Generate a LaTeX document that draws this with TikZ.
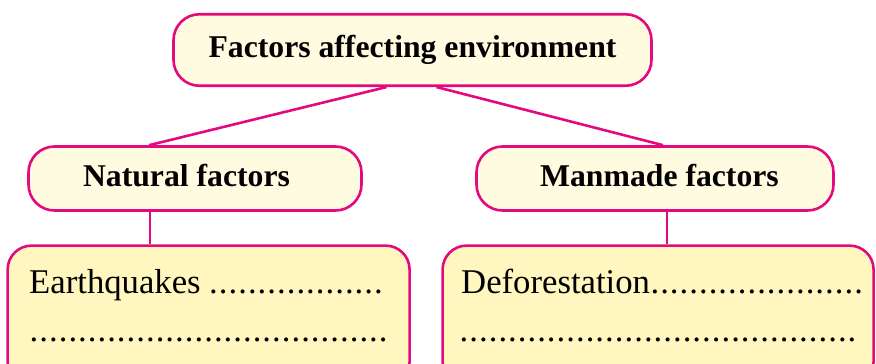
\documentclass[tikz,border=0pt]{standalone}
\usepackage{fontspec}
\setmainfont{Liberation Serif}
\usepackage{tikz}
\usetikzlibrary{positioning,calc}
\usepackage{xcolor}
\definecolor{colpink}{HTML}{E5097F}
\definecolor{colcream}{HTML}{FFFBE0}
\definecolor{colbutter}{HTML}{FFF7BF}
\newcommand{\dotrow}[1]{\hbox to #1{\leaders\hbox to 9.7pt{\hss.\hss}\hfill}}

\begin{document}
\begin{tikzpicture}[
  x=1pt, y=-1pt,
  head/.style={draw=colpink,line width=2.6pt,fill=colcream,rounded corners=26pt,
    font=\fontsize{31.7}{36}\selectfont\bfseries,text height=22pt,text depth=7pt},
  blank/.style={draw=colpink,line width=2.6pt,fill=colbutter,rounded corners=24pt,
    anchor=north west},
  fill in/.style={anchor=base west,inner sep=0pt,font=\fontsize{34.7}{40}\selectfont},
  link/.style={draw=colpink,line width=2.6pt},
]
  \clip (0,0) rectangle (876,364);
  % ---------------- top ----------------
  \node[head,minimum width=478pt,minimum height=71.5pt] (env) at (412.5,50)
    {Factors affecting environment};
  % ---------------- second row ----------------
  \node[head,minimum width=333pt,minimum height=64pt] (nat) at (195,178.5)
    {\hspace*{-17pt}Natural factors};
  \node[head,minimum width=357pt,minimum height=64pt] (man) at (655,178.5)
    {\hspace*{9pt}Manmade factors};
  \draw[link] ([xshift=-26pt]env.south) -- ([xshift=-46pt]nat.north);
  \draw[link] ([xshift=24pt]env.south) -- ([xshift=8pt]man.north);
  % ---------------- answer boxes ----------------
  \node[blank,minimum width=402pt,minimum height=140pt] (natbox) at (6.3,244.3) {};
  \node[blank,minimum width=431pt,minimum height=140pt] (manbox) at (441.3,244.3) {};
  \draw[link] ([xshift=-45pt]nat.south) -- ([xshift=-45pt]nat.south |- natbox.north);
  \draw[link] ([xshift=12pt]man.south) -- ([xshift=12pt]man.south |- manbox.north);
  % the dotted lines are left for the pupil to fill
  \node[fill in] (eq1) at (29,293) {Earthquakes\hspace{8pt}\dotrow{180pt}};
  \node[fill in] (eq2) at (29,341) {\dotrow{359pt}};
  \node[fill in] (df1) at (461,293) {Deforestation\dotrow{223pt}};
  \node[fill in] (df2) at (459,341) {\dotrow{399pt}};
\end{tikzpicture}
\end{document}
